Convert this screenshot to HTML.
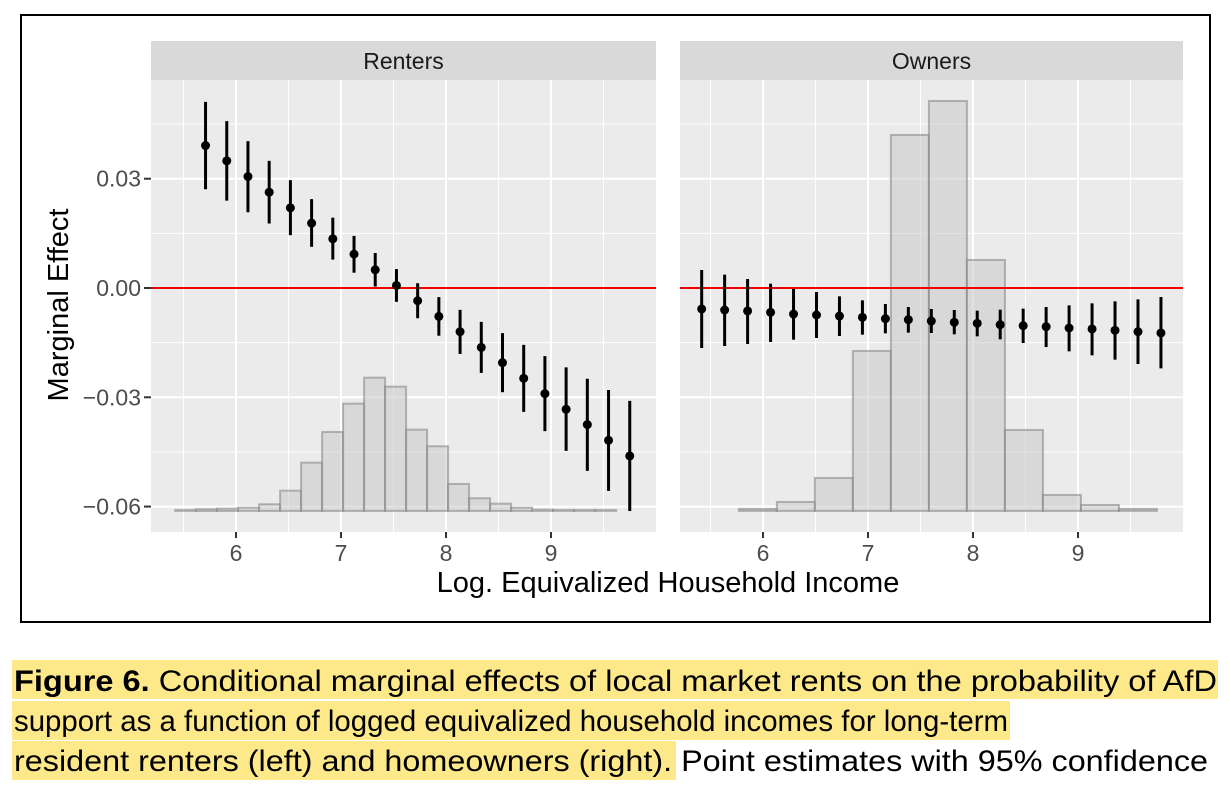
<!DOCTYPE html>
<html><head><meta charset="utf-8"><style>
html,body{margin:0;padding:0;background:#fff;width:1230px;height:786px;overflow:hidden}
svg{display:block}
</style></head><body>
<svg id="chart" width="1230" height="786" xmlns="http://www.w3.org/2000/svg">
<rect x="21" y="15" width="1189" height="607" fill="#fff" stroke="#000" stroke-width="2"/>
<g id="panels"></g>
<text x="68" y="305" transform="rotate(-90 68 305)" text-anchor="middle" font-family="Liberation Sans, sans-serif" font-size="29" fill="#000">Marginal Effect</text>
<text x="668" y="592" text-anchor="middle" font-family="Liberation Sans, sans-serif" font-size="29" fill="#000">Log. Equivalized Household Income</text>
<g font-family="Liberation Sans, sans-serif" font-size="30">
<rect x="12" y="660" width="1206" height="39" fill="#fde98a"/>
<rect x="12" y="701" width="998" height="39" fill="#fde98a"/>
<rect x="12" y="741" width="664" height="39" fill="#fde98a"/>
<text x="14" y="691" textLength="1203" lengthAdjust="spacingAndGlyphs"><tspan font-weight="bold">Figure 6.</tspan>  Conditional marginal effects of local market rents on the probability of AfD</text>
<text x="14" y="731" textLength="994" lengthAdjust="spacingAndGlyphs">support as a function of logged equivalized household incomes for long-term</text>
<text x="14" y="771" textLength="1194" lengthAdjust="spacingAndGlyphs">resident renters (left) and homeowners (right). Point estimates with 95% confidence</text>
</g>
</svg>
<script>
// Renters
const rentX0 = 5.71, rentStep = 0.202;
const rentEst = [0.0391,0.0349,0.0306,0.0263,0.0220,0.0178,0.0135,0.0093,0.0050,0.0007,-0.0035,-0.0078,-0.0120,-0.0163,-0.0205,-0.0248,-0.0290,-0.0333,-0.0375,-0.0418,-0.0461];
const rentLo = [0.0271,0.0240,0.0208,0.0177,0.0145,0.0113,0.0078,0.0042,0.0004,-0.0038,-0.0083,-0.0131,-0.0181,-0.0233,-0.0286,-0.0340,-0.0393,-0.0447,-0.0502,-0.0557,-0.0612];
const rentHi = [0.0511,0.0458,0.0403,0.0349,0.0296,0.0244,0.0193,0.0143,0.0096,0.0052,0.0013,-0.0025,-0.0060,-0.0093,-0.0124,-0.0156,-0.0187,-0.0218,-0.0249,-0.0280,-0.0310];
const rentHistStart = 5.42, rentHistWidth = 0.2;
const rentHist = [1,1.7,2.3,3.3,6.7,20.3,48.3,79,107.3,133.3,124.3,81.3,64.7,27,12.7,7.3,3.3,1.3,1,1,1];
// Owners
const ownX0 = 5.416, ownStep = 0.2187;
const ownEst = [-0.00576,-0.00604,-0.00631,-0.00668,-0.00714,-0.00741,-0.00769,-0.00805,-0.00842,-0.00869,-0.00906,-0.00942,-0.00970,-0.01006,-0.01034,-0.01061,-0.01098,-0.01125,-0.01162,-0.01199,-0.01235];
const ownLo = [-0.01647,-0.01592,-0.01537,-0.01482,-0.01418,-0.01372,-0.01318,-0.01281,-0.01244,-0.01226,-0.01235,-0.01272,-0.01327,-0.01409,-0.01510,-0.01620,-0.01739,-0.01848,-0.01967,-0.02086,-0.02205];
const ownHi = [0.00494,0.00366,0.00247,0.00119,-0.00027,-0.00110,-0.00229,-0.00339,-0.00439,-0.00522,-0.00576,-0.00604,-0.00622,-0.00595,-0.00567,-0.00522,-0.00476,-0.00421,-0.00366,-0.00311,-0.00247];
const ownHistStart = 5.77, ownHistWidth = 0.362;
const ownHist = [2,9,33,160,376,410,251,81,16,6,2];
const histBase = -0.0612;
const yTicks = [0.03, 0.00, -0.03, -0.06];
const yTickLabels = ["0.03","0.00","\u22120.03","\u22120.06"];
const xTicks = [6,7,8,9];
const xTickLabels = ["6","7","8","9"];

const NS = "http://www.w3.org/2000/svg";
const PANEL_TOP = 80, PANEL_BOT = 532;
function yS(v){ return 288 - v * 3643; }
function hPx(c){ return c; }
function mk(tag, attrs, parent){ const e=document.createElementNS(NS,tag); for(const k in attrs) e.setAttribute(k,attrs[k]); parent.appendChild(e); return e; }
const root = document.getElementById('panels');

function panel(name, left, right, x6px, title, x0, step, est, lo, hi, hStart, hWidth, hist, drawYAxis){
  const xS = v => x6px + (v - 6) * 105;
  const g = mk('g', {}, root);
  
  
  const bg = mk('rect', {x:left, y:PANEL_TOP, width:right-left, height:PANEL_BOT-PANEL_TOP, fill:'#ebebeb'}, g);
  
  
  [5.5,6.5,7.5,8.5,9.5].forEach(v=>{ const x=xS(v); if(x>left&&x<right){ const l=mk('line',{x1:x,x2:x,y1:PANEL_TOP,y2:PANEL_BOT,stroke:'#fff','stroke-width':1}, g);
      }});
  [0.045,0.015,-0.015,-0.045].forEach(v=>{ const y=yS(v); const l=mk('line',{x1:left,x2:right,y1:y,y2:y,stroke:'#fff','stroke-width':1}, g);
      });
  xTicks.forEach(v=>{ const x=xS(v); const l=mk('line',{x1:x,x2:x,y1:PANEL_TOP,y2:PANEL_BOT,stroke:'#fff','stroke-width':2}, g);
      });
  yTicks.forEach(v=>{ const y=yS(v); const l=mk('line',{x1:left,x2:right,y1:y,y2:y,stroke:'#fff','stroke-width':2}, g);
      });
  hist.forEach((c,i)=>{ const x1=xS(hStart+i*hWidth), x2=xS(hStart+(i+1)*hWidth); const yb=yS(histBase); const yt=yb-hPx(c);
    const r=mk('rect',{x:x1,y:yt,width:x2-x1,height:yb-yt,fill:'rgba(200,200,200,0.55)',stroke:'rgba(130,130,130,0.55)','stroke-width':2}, g);
      });
  const zl = mk('line',{x1:left,x2:right,y1:yS(0),y2:yS(0),stroke:'#ee0000','stroke-width':2}, g);
  
  
  est.forEach((v,i)=>{ const x=xS(x0+i*step);
    const l=mk('line',{x1:x,x2:x,y1:yS(hi[i]),y2:yS(lo[i]),stroke:'#000','stroke-width':3}, g);
     
    const c=mk('circle',{cx:x,cy:yS(v),r:4.5,fill:'#000'}, g);
      });
  const st=mk('rect',{x:left,y:41,width:right-left,height:39,fill:'#d9d9d9'}, g);
  
  
  const tt=mk('text',{x:(left+right)/2,y:69,'text-anchor':'middle','font-family':'Liberation Sans, sans-serif','font-size':23,fill:'#1a1a1a'}, g);
  tt.textContent=title;
  
  
  xTicks.forEach((v,i)=>{ const x=xS(v);
    const t=mk('line',{x1:x,x2:x,y1:PANEL_BOT,y2:PANEL_BOT+6,stroke:'#333','stroke-width':2}, g);
     
    const tx=mk('text',{x:x,y:PANEL_BOT+29,'text-anchor':'middle','font-family':'Liberation Sans, sans-serif','font-size':23,fill:'#4d4d4d'}, g);
    tx.textContent=xTickLabels[i];
      });
  if(drawYAxis){
    yTicks.forEach((v,i)=>{ const y=yS(v);
      const t=mk('line',{x1:left-7,x2:left,y1:y,y2:y,stroke:'#333','stroke-width':2}, g);
       
      const tx=mk('text',{x:left-10,y:y+8,'text-anchor':'end','font-family':'Liberation Sans, sans-serif','font-size':23,fill:'#4d4d4d'}, g);
      tx.textContent=yTickLabels[i];
        });
  }
}
panel('renters',151,656,236,'Renters',rentX0,rentStep,rentEst,rentLo,rentHi,rentHistStart,rentHistWidth,rentHist,true);
panel('owners',680,1183,763,'Owners',ownX0,ownStep,ownEst,ownLo,ownHi,ownHistStart,ownHistWidth,ownHist,false);
</script>
</body></html>
